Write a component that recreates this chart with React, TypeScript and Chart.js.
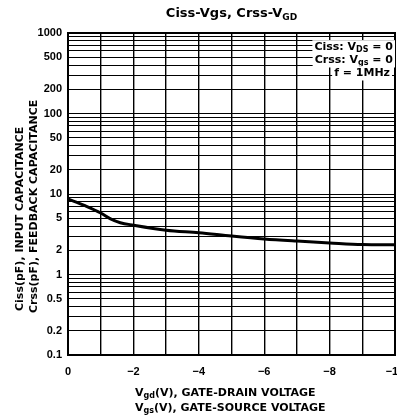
import React, { useEffect, useRef } from "react";
import { Chart, registerables } from "chart.js";

Chart.register(...registerables);

// Data (V vs pF)
const voltages = [0, -0.5, -1, -1.3, -1.6, -2, -3, -4, -5, -6, -7, -8, -9, -10];
const capacitance = [8.7, 7.2, 5.8, 4.9, 4.4, 4.1, 3.55, 3.3, 3.0, 2.76, 2.6, 2.47, 2.36, 2.34];

const yLabelValues = [0.1, 0.2, 0.5, 1, 2, 5, 10, 20, 50, 100, 200, 500, 1000];
const yDecades = [0.1, 1, 10, 100];
const yMantissas = [1, 2, 3, 4, 5, 6, 7, 8, 9];
const xLabelValues = [0, -2, -4, -6, -8, -10];

type Seg = { t: string; sub?: boolean };

const FONT = '"Liberation Sans", Arial, Helvetica, sans-serif';
const TFONT = '"DejaVu Sans", "Liberation Sans", Arial, sans-serif';

function drawRich(
  ctx: CanvasRenderingContext2D,
  segs: Seg[],
  x: number,
  y: number,
  size: number,
  align: "left" | "center" | "right",
  bg = false
) {
  const subSize = Math.round(size * 0.72);
  const f = (s: number) => `bold ${s}px ${TFONT}`;
  let w = 0;
  for (const s of segs) {
    ctx.font = f(s.sub ? subSize : size);
    w += ctx.measureText(s.t).width;
  }
  let sx = align === "left" ? x : align === "center" ? x - w / 2 : x - w;
  if (bg) {
    ctx.fillStyle = "#fff";
    ctx.fillRect(sx - 2, y - size * 0.62, w + 4, size * 1.3);
  }
  ctx.fillStyle = "#000";
  ctx.textBaseline = "middle";
  ctx.textAlign = "left";
  for (const s of segs) {
    ctx.font = f(s.sub ? subSize : size);
    ctx.fillText(s.t, sx, s.sub ? y + size * 0.25 : y);
    sx += ctx.measureText(s.t).width;
  }
}

const textPlugin = {
  id: "textPlugin",
  afterDraw(chart: any) {
    const ctx: CanvasRenderingContext2D = chart.ctx;
    const area = chart.chartArea;
    ctx.save();
    // Title
    drawRich(ctx, [{ t: "Ciss-Vgs, Crss-V" }, { t: "GD", sub: true }], (area.left + area.right) / 2, 14, 13, "center");
    // Legend text in plot
    drawRich(ctx, [{ t: "Ciss: V" }, { t: "DS", sub: true }, { t: " = 0" }], 393, 47, 11, "right", true);
    drawRich(ctx, [{ t: "Crss: V" }, { t: "gs", sub: true }, { t: " = 0" }], 393, 60, 11, "right", true);
    drawRich(ctx, [{ t: "f = 1MHz" }], 390, 73, 11, "right", true);
    // X axis titles
    drawRich(ctx, [{ t: "V" }, { t: "gd", sub: true }, { t: "(V), GATE-DRAIN VOLTAGE" }], 135, 393, 11, "left");
    drawRich(ctx, [{ t: "V" }, { t: "gs", sub: true }, { t: "(V), GATE-SOURCE VOLTAGE" }], 135, 408, 11, "left");
    // Y axis titles (rotated)
    ctx.save();
    ctx.translate(20, 311);
    ctx.rotate(-Math.PI / 2);
    drawRich(ctx, [{ t: "Ciss(pF), INPUT CAPACITANCE" }], 0, 0, 11, "left");
    ctx.restore();
    ctx.save();
    ctx.translate(34, 313);
    ctx.rotate(-Math.PI / 2);
    drawRich(ctx, [{ t: "Crss(pF), FEEDBACK CAPACITANCE" }], 0, 0, 11, "left");
    ctx.restore();
    ctx.restore();
  },
};

export default function App() {
  const ref = useRef<HTMLCanvasElement>(null);
  useEffect(() => {
    if (!ref.current) return;
    const chart = new Chart(ref.current, {
      type: "line",
      data: {
        datasets: [
          {
            data: voltages.map((v, i) => ({ x: v, y: capacitance[i] })),
            borderColor: "#000",
            borderWidth: 3,
            pointRadius: 0,
            cubicInterpolationMode: "monotone",
            fill: false,
          },
        ],
      },
      options: {
        responsive: false,
        animation: false,
        devicePixelRatio: 1,
        layout: { padding: { left: 0, top: 33, right: 25, bottom: 35 } },
        plugins: { legend: { display: false }, tooltip: { enabled: false }, title: { display: false } },
        scales: {
          x: {
            type: "linear",
            min: -10,
            max: 0,
            reverse: true,
            afterFit: (s: any) => {
              s.height = 30;
            },
            afterBuildTicks: (s: any) => {
              const t = [];
              for (let v = 0; v >= -10; v--) t.push({ value: v });
              s.ticks = t;
            },
            ticks: {
              autoSkip: false,
              maxRotation: 0,
              padding: 10,
              color: "#000",
              font: { family: FONT, size: 11, weight: "bold" },
              callback: (v: any) => {
                const n = Number(v);
                if (!xLabelValues.includes(n)) return "";
                return n === 0 ? "0" : "\u2212" + Math.abs(n);
              },
            },
            grid: { color: "#000", lineWidth: 1.4, drawTicks: false },
            border: { display: true, color: "#000", width: 2 },
          },
          y: {
            type: "logarithmic",
            min: 0.1,
            max: 1000,
            afterFit: (s: any) => {
              s.width = 68;
            },
            afterBuildTicks: (s: any) => {
              const t: any[] = [];
              for (const d of yDecades) for (const m of yMantissas) t.push({ value: Number((m * d).toPrecision(3)) });
              t.push({ value: 1000 });
              s.ticks = t;
            },
            ticks: {
              autoSkip: false,
              padding: 6,
              color: "#000",
              font: { family: FONT, size: 11, weight: "bold" },
              callback: (v: any) => {
                const n = Number(v);
                return yLabelValues.includes(n) ? String(n) : "";
              },
            },
            grid: { color: "#000", lineWidth: 1, drawTicks: false },
            border: { display: true, color: "#000", width: 2 },
          },
        },
      },
      plugins: [
        {
          id: "frame",
          afterDraw(chart: any) {
            const { ctx, chartArea: a } = chart;
            ctx.save();
            ctx.strokeStyle = "#000";
            ctx.lineWidth = 2;
            ctx.strokeRect(a.left, a.top, a.right - a.left, a.bottom - a.top);
            ctx.restore();
          },
        },
        textPlugin,
      ],
    } as any);
    return () => chart.destroy();
  }, []);
  return (
    <div style={{ position: "absolute", left: 0, top: 0, width: 397, height: 420, overflow: "hidden", background: "#fff" }}>
      <canvas ref={ref} width={420} height={420} style={{ display: "block", width: 420, height: 420 }} />
    </div>
  );
}
